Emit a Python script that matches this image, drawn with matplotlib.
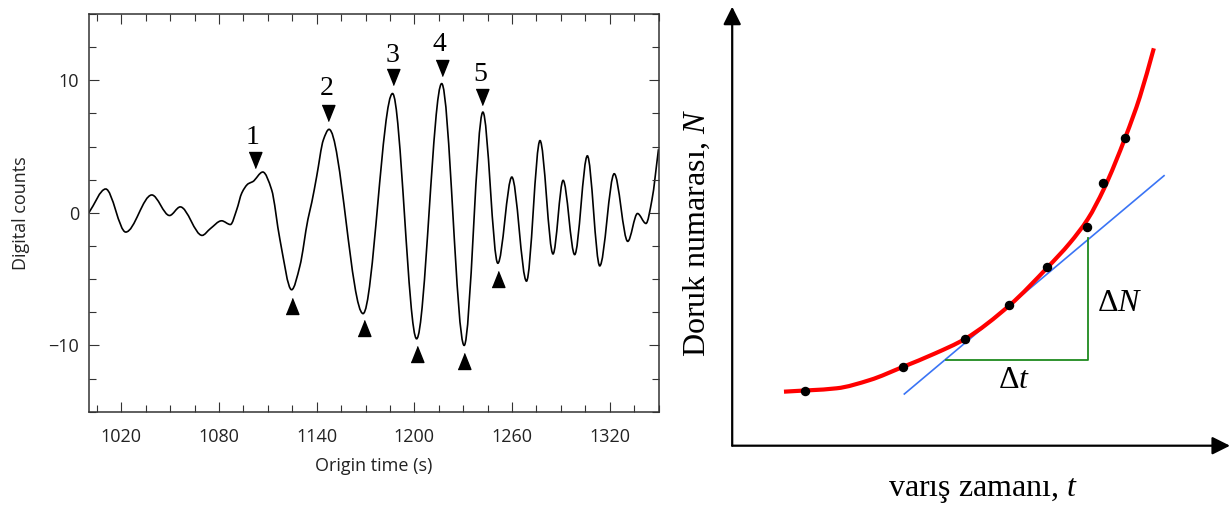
import matplotlib
matplotlib.use("Agg")
import matplotlib.pyplot as plt
from matplotlib.path import Path
from matplotlib.patches import PathPatch
from matplotlib.ticker import MultipleLocator, FixedLocator
import numpy as np

plt.rcParams['mathtext.fontset'] = 'custom'
plt.rcParams['mathtext.rm'] = 'Liberation Serif'
plt.rcParams['mathtext.it'] = 'Liberation Serif:italic'

# ---------------- Left panel data (seismogram) ----------------
wave_t = [1000.0, 1010.4, 1022.7, 1038.7, 1049.6, 1056.2, 1069.6, 1074.6, 1081.6,
          1087.0, 1090.9, 1094.0, 1098.0, 1100.7, 1106.9, 1112.3, 1117.4, 1124.6,
          1129.7, 1134.6, 1137.0, 1140.0, 1144.1, 1147.6, 1168.5, 1186.6, 1201.4,
          1216.8, 1230.6, 1242.1, 1251.3, 1259.9, 1268.9, 1277.2, 1285.2, 1291.4,
          1298.5, 1306.3, 1313.9, 1322.8, 1331.1, 1337.1, 1342.3, 1346.0, 1350.0]
wave_v = [0.0, 1.8, -1.45, 1.35, -0.2, 0.45, -1.7, -1.2, -0.6,
          -0.88, 0.25, 1.5, 2.2, 2.35, 3.08, 1.75, -2.0, -5.8,
          -4.0, -0.5, 0.8, 2.75, 5.5, 6.3, -7.6, 9.0, -9.5,
          9.75, -10.0, 7.6, -3.8, 2.7, -5.15, 5.45, -3.1, 2.45,
          -3.15, 4.3, -4.0, 2.95, -2.15, -0.05, -0.8, 1.0, 4.8]

peak_labels = ['1', '2', '3', '4', '5']
peak_tri_t = [1101.8, 1147.0, 1187.0, 1216.8, 1241.5]
peak_tri_v = [4.0, 7.5, 10.27, 10.9, 8.77]
peak_lab_t = [1100.9, 1146.1, 1186.6, 1215.3, 1240.6]
peak_lab_v = [5.66, 9.4, 11.9, 12.67, 10.4]
trough_tri_t = [1125.0, 1168.8, 1201.4, 1230.7, 1251.3]
trough_tri_v = [-7.02, -8.72, -10.65, -11.16, -4.96]

x_major = [1020, 1080, 1140, 1200, 1260, 1320]
y_major = [-10, 0, 10]

# ---------------- Right panel data (schematic) ----------------
red_x = [10.36, 20.9, 27.56, 34.1, 40.56, 46.56, 55.56, 63.16, 67.56, 71.16, 74.36, 78.76, 81.56, 84.36]
red_y = [12.12, 12.88, 14.74, 17.66, 20.69, 23.94, 31.57, 40.09, 45.48, 50.87, 57.6, 69.48, 78.24, 89.16]
dot_x = [14.5, 34.1, 46.56, 55.38, 63.02, 70.92, 74.22, 78.6]
dot_y = [12.34, 17.72, 24.0, 31.68, 40.16, 49.14, 59.0, 68.97]
blue_x = [34.44, 86.4]
blue_y = [11.6, 60.58]
green_x = [42.76, 71.26, 71.26]
green_y = [19.23, 19.23, 46.49]


def smooth_path(xs, ys):
    xs = np.asarray(xs, float)
    ys = np.asarray(ys, float)
    n = len(xs)
    h = np.diff(xs)
    d = np.diff(ys) / h
    m = np.zeros(n)
    m[0] = d[0]
    m[-1] = d[-1]
    for k in range(1, n - 1):
        if d[k - 1] * d[k] <= 0:
            m[k] = 0.0
        else:
            w1 = 2 * h[k] + h[k - 1]
            w2 = h[k] + 2 * h[k - 1]
            m[k] = (w1 + w2) / (w1 / d[k - 1] + w2 / d[k])
    verts = [(xs[0], ys[0])]
    codes = [Path.MOVETO]
    for i in range(n - 1):
        dt = h[i]
        verts += [(xs[i] + dt / 3, ys[i] + m[i] * dt / 3),
                  (xs[i + 1] - dt / 3, ys[i + 1] - m[i + 1] * dt / 3),
                  (xs[i + 1], ys[i + 1])]
        codes += [Path.CURVE4] * 3
    return Path(verts, codes)


W, H = 1232, 507
fig = plt.figure(figsize=(W / 100, H / 100), dpi=100)

# ---------------- Left axes ----------------
ax1 = fig.add_axes([88.8 / W, (H - 411.7) / H, (658.5 - 88.8) / W, (411.7 - 14) / H])
ax1.set_xlim(1000, 1350)
ax1.set_ylim(-15, 15)
ax1.add_patch(PathPatch(smooth_path(wave_t, wave_v), facecolor='none',
                        edgecolor='black', lw=1.2))

down_tri = [(-0.8, 1), (0.8, 1), (0, -1)]
up_tri = [(-0.8, -1), (0.8, -1), (0, 1)]
ax1.plot(peak_tri_t, peak_tri_v, linestyle='none', marker=down_tri, ms=11.5,
         color='black')
ax1.plot(trough_tri_t, trough_tri_v, linestyle='none', marker=up_tri, ms=11.5,
         color='black')
for lab, tx, ty in zip(peak_labels, peak_lab_t, peak_lab_v):
    ax1.text(tx, ty, lab, ha='center', va='center', fontsize=20,
             family='Liberation Serif', color='black')

tick_font = 'Open Sans'
ax1.xaxis.set_major_locator(FixedLocator(x_major))
ax1.xaxis.set_minor_locator(MultipleLocator(15))
ax1.yaxis.set_major_locator(FixedLocator(y_major))
ax1.yaxis.set_minor_locator(MultipleLocator(2.5))
ax1.tick_params(which='both', direction='in', top=True, right=True,
                color='#333333', width=0.8)
ax1.tick_params(which='major', length=7.5)
ax1.tick_params(which='minor', length=5)
ax1.tick_params(axis='x', which='major', pad=12)
ax1.tick_params(axis='y', which='major', pad=7)
ax1.set_xticklabels([str(v) for v in x_major], family=tick_font, fontsize=13,
                    color='#222222')
ax1.set_yticklabels(['\u221210', '0', '10'], family=tick_font, fontsize=13,
                    color='#222222')
ax1.set_xlabel('Origin time (s)', family=tick_font, fontsize=13,
               color='#222222', labelpad=8)
ax1.set_ylabel('Digital counts', family=tick_font, fontsize=13,
               color='#222222', labelpad=13)
for s in ax1.spines.values():
    s.set_linewidth(1.1)
    s.set_color('#333333')

# ---------------- Right axes ----------------
ax2 = fig.add_axes([732.2 / W, (H - 445.7) / H, (W - 732.2) / W, 445.7 / H])
ax2.set_xlim(0, 100)
ax2.set_ylim(0, 100)
ax2.axis('off')

arrow_kw = dict(arrowstyle='-|>,head_length=0.4,head_width=0.2',
                mutation_scale=27, lw=1.6, color='black',
                shrinkA=0, shrinkB=0)
ax2.annotate('', xy=(99.6, 0), xytext=(0, 0), arrowprops=arrow_kw,
             annotation_clip=False)
ax2.annotate('', xy=(0, 98.5), xytext=(0, 0), arrowprops=arrow_kw,
             annotation_clip=False)

ax2.plot(blue_x, blue_y, color='#3a74f5', lw=1.2, zorder=2)
ax2.plot(green_x, green_y, color='#1f8a1f', lw=1.3, zorder=2)
ax2.add_patch(PathPatch(smooth_path(red_x, red_y), facecolor='none',
                        edgecolor='#ff0000', lw=3.0, zorder=3,
                        capstyle='butt'))
ax2.plot(dot_x, dot_y, linestyle='none', marker='o', ms=5.8, color='black',
         zorder=4)

serif = 'Liberation Serif'
ax2.text(77.56, 31.95, '\u0394$N$', ha='center', va='center', fontsize=23,
         family=serif)
ax2.text(56.34, 14.74, '\u0394$t$', ha='center', va='center', fontsize=23,
         family=serif)
ax2.text(50.28, -9.94, 'varış zamanı, $t$', ha='center', va='center',
         fontsize=23, family=serif, clip_on=False)
ax2.text(-7.14, 47.72, 'Doruk numarası, $N$', ha='center', va='center',
         rotation=90, fontsize=23, family=serif, clip_on=False)

fig.savefig('out.png', dpi=100)
